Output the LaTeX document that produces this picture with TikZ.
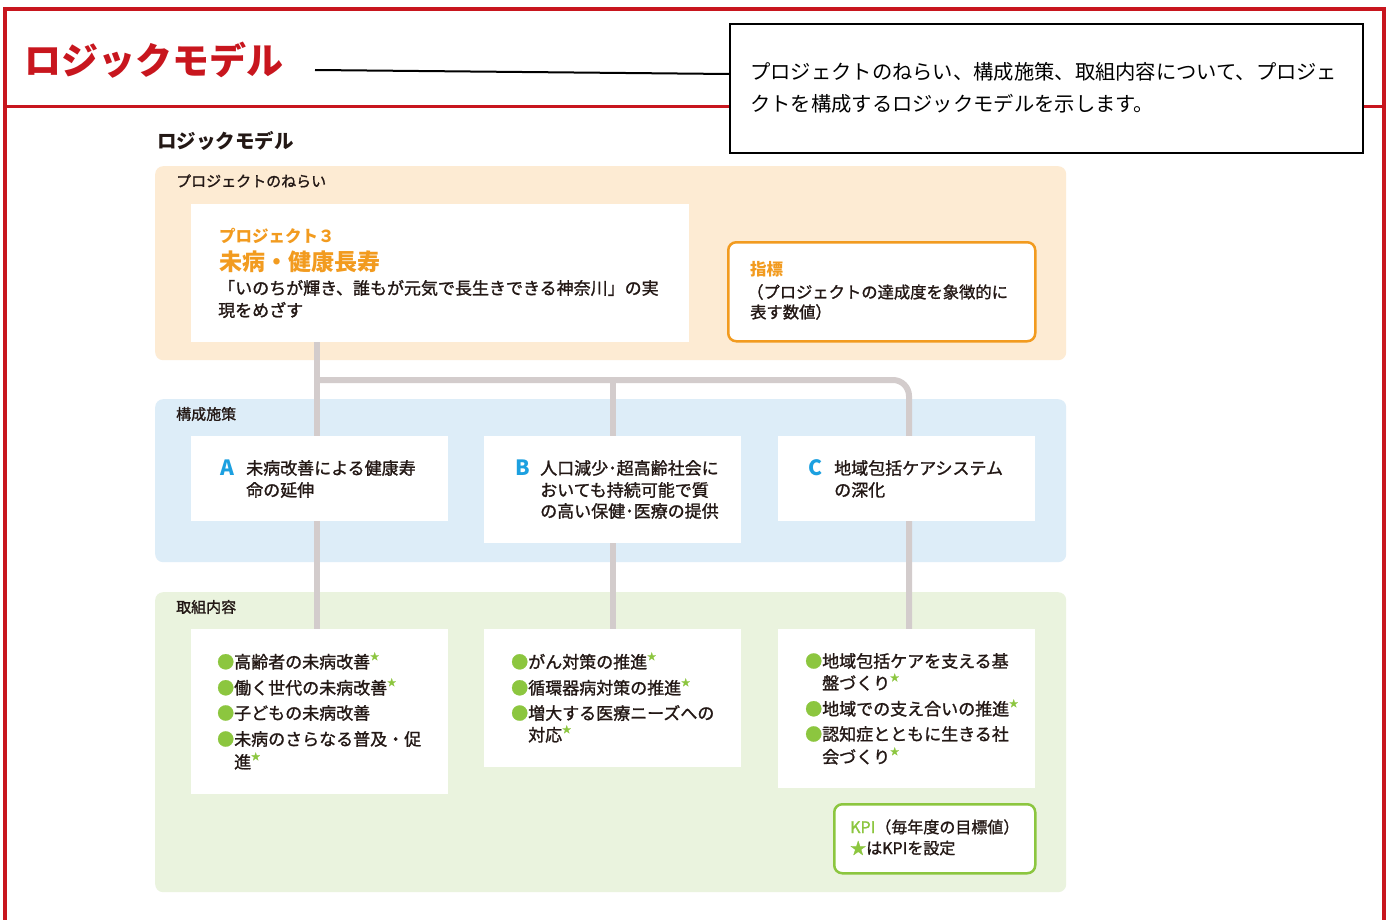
\documentclass[tikz,border=0pt]{standalone}
\usepackage{fontspec}
\setmainfont{Noto Sans CJK JP}
\newfontfamily\jpmed{Noto Sans CJK JP}[FakeBold=1.3]
\definecolor{kred}{HTML}{C8161E}
\definecolor{korange}{HTML}{F29B1F}
\definecolor{opanel}{HTML}{FDEBD3}
\definecolor{bpanel}{HTML}{DDEDF8}
\definecolor{gpanel}{HTML}{EAF3DE}
\definecolor{kblue}{HTML}{1CA0E0}
\definecolor{kgreen}{HTML}{8CC63F}
\definecolor{kgray}{HTML}{D3CCCC}
\definecolor{ktext}{HTML}{231815}
\newcommand\kstar{\raisebox{0.5em}{\fontsize{9}{9}\selectfont\color{kgreen}★}}
\newcommand\kdot{{\color{kgreen}●}}
\begin{document}
\begin{tikzpicture}[x=1pt,y=-1pt,
  panel/.style={rounded corners=8pt, draw=none, anchor=north west, inner sep=0pt},
  wbox/.style={fill=white, draw=none, anchor=north west, inner sep=0pt},
  conn/.style={draw=kgray, line width=6pt},
  txt/.style={anchor=west, inner sep=0pt, text=ktext, font=\jpmed\fontsize{17}{18}\selectfont},
  lbl/.style={txt, font=\jpmed\fontsize{15}{16}\selectfont},
  letter/.style={anchor=west, inner sep=0pt, text=kblue, font=\fontsize{21}{22}\selectfont\bfseries},
]
\useasboundingbox (0,0) rectangle (1394,920);
\fill[white] (0,0) rectangle (1394,920);

% red frame
\draw[kred, line width=4.5pt] (5,920) -- (5,9) -- (1384,9) -- (1384,920);
\draw[kred, line width=3pt] (5,107) -- (1384,107);

% title and callout
\node[anchor=west, inner sep=0pt, text=kred, font=\fontsize{37}{40}\selectfont\bfseries] (title) at (24,60) {ロジックモデル};
\node[wbox, draw=black, line width=2pt, minimum width=633pt, minimum height=129pt] (callout) at (729,23) {};
\node[anchor=west, inner sep=0pt, font=\fontsize{20.3}{22}\selectfont, text=black] (cl1) at (750,72) {プロジェクトのねらい、構成施策、取組内容について、プロジェ};
\node[anchor=west, inner sep=0pt, font=\fontsize{20.3}{22}\selectfont, text=black] (cl2) at (750,104) {クトを構成するロジックモデルを示します。};
\coordinate (ls) at (315,70);
\draw[line width=2pt] (ls) -- ([yshift=14.5pt]callout.west);

% subtitle
\node[txt, font=\fontsize{19.5}{20}\selectfont\bfseries] (sub) at (157,141) {ロジックモデル};

% panels
\node[panel, fill=opanel, minimum width=911pt, minimum height=194pt] (pO) at (155,166) {};
\node[panel, fill=bpanel, minimum width=911pt, minimum height=163pt] (pB) at (155,399) {};
\node[panel, fill=gpanel, minimum width=911pt, minimum height=300pt] (pG) at (155,592) {};
\node[lbl] (lO) at (176,181) {プロジェクトのねらい};
\node[lbl] (lB) at (176,414) {構成施策};
\node[lbl] (lG) at (176,607) {取組内容};

% junction points
\coordinate (j1) at (317,380);
\coordinate (j2) at (613,380);
\coordinate (j3) at (909,380);

% connectors
\node[wbox, minimum width=498pt, minimum height=138pt] (proj) at (191,204) {};
\node[wbox, minimum width=257pt, minimum height=165pt] (R1) at (191,629) {};
\node[wbox, minimum width=257pt, minimum height=138pt] (R2) at (484,629) {};
\node[wbox, minimum width=257pt, minimum height=159pt] (R3) at (778,629) {};
\draw[conn] ([xshift=126pt]proj.south west) -- ([xshift=126pt]R1.north west);
\draw[conn, rounded corners=16pt] (j1) -- (j3) -- ([xshift=131pt]R3.north west);
\draw[conn] (j2) -- ([xshift=129pt]R2.north west);

% boxes drawn over connectors
\node[wbox, minimum width=498pt, minimum height=138pt] (proj2) at (191,204) {};
\node[wbox, draw=korange, line width=2.5pt, rounded corners=8pt, minimum width=307pt, minimum height=99pt] (ind) at (727,241) {};
\node[wbox, minimum width=257pt, minimum height=85pt] (A) at (191,436) {};
\node[wbox, minimum width=257pt, minimum height=107pt] (B) at (484,436) {};
\node[wbox, minimum width=257pt, minimum height=85pt] (C) at (778,436) {};
\node[wbox, minimum width=257pt, minimum height=165pt] (R1b) at (191,629) {};
\node[wbox, minimum width=257pt, minimum height=138pt] (R2b) at (484,629) {};
\node[wbox, minimum width=257pt, minimum height=159pt] (R3b) at (778,629) {};
\node[wbox, draw=kgreen, line width=2.5pt, rounded corners=8pt, minimum width=201pt, minimum height=69pt] (kpi) at (833,803) {};

% project texts
\node[txt, text=korange, font=\fontsize{16.5}{18}\selectfont\bfseries] (p1) at (219,236) {プロジェクト３};
\node[txt, text=korange, font=\fontsize{23}{24}\selectfont\bfseries] (p2) at (219,262) {未病・健康長寿};
\node[txt] (p3) at (218,288) {「いのちが輝き、誰もが元気で長生きできる神奈川」の実};
\node[txt] (p4) at (218,310) {現をめざす};

\node[txt, text=korange, font=\fontsize{16.5}{18}\selectfont\bfseries] (i1) at (750,269) {指標};
\node[txt, font=\jpmed\fontsize{16.3}{18}\selectfont] (i2) at (747,292) {（プロジェクトの達成度を象徴的に};
\node[txt, font=\jpmed\fontsize{16.3}{18}\selectfont] (i3) at (750,312) {表す数値）};

% measures
\node[letter] (a0) at (220,468) {A};
\node[txt] (a1) at (246,468) {未病改善による健康寿};
\node[txt] (a2) at (246,490) {命の延伸};
\node[letter] (b0) at (515,468) {B};
\node[txt] (b1) at (540,468) {人口減少･超高齢社会に};
\node[txt] (b2) at (540,490) {おいても持続可能で質};
\node[txt] (b3) at (540,511) {の高い保健･医療の提供};
\node[letter] (c0) at (808,468) {C};
\node[txt] (c1) at (834,468) {地域包括ケアシステム};
\node[txt] (c2) at (834,490) {の深化};

% actions
\node[txt] (r11) at (217,661) {\kdot 高齢者の未病改善\kstar};
\node[txt] (r12) at (217,687) {\kdot 働く世代の未病改善\kstar};
\node[txt] (r13) at (217,713) {\kdot 子どもの未病改善};
\node[txt] (r14) at (217,739) {\kdot 未病のさらなる普及・促};
\node[txt] (r15) at (234,761) {進\kstar};

\node[txt] (r21) at (511,661) {\kdot がん対策の推進\kstar};
\node[txt] (r22) at (511,687) {\kdot 循環器病対策の推進\kstar};
\node[txt] (r23) at (511,713) {\kdot 増大する医療ニーズへの};
\node[txt] (r24) at (528,734) {対応\kstar};

\node[txt] (r31) at (805,661) {\kdot 地域包括ケアを支える基};
\node[txt] (r32) at (822,682) {盤づくり\kstar};
\node[txt] (r33) at (805,708) {\kdot 地域での支え合いの推進\kstar};
\node[txt] (r34) at (805,734) {\kdot 認知症とともに生きる社};
\node[txt] (r35) at (822,756) {会づくり\kstar};

% KPI
\node[txt, font=\jpmed\fontsize{16}{18}\selectfont] (k1) at (850,827) {{\color{kgreen}KPI}（毎年度の目標値）};
\node[txt, font=\jpmed\fontsize{16}{18}\selectfont] (k2) at (850,848) {{\color{kgreen}★}はKPIを設定};
\end{tikzpicture}
\end{document}
